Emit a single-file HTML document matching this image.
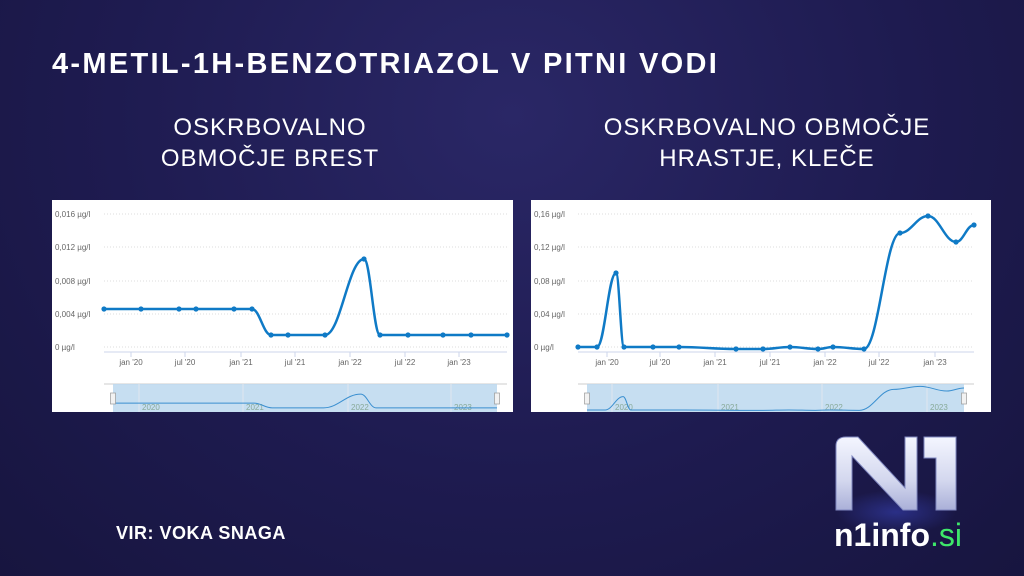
<!DOCTYPE html>
<html><head><meta charset="utf-8"><style>
html,body{margin:0;padding:0}
body{width:1024px;height:576px;overflow:hidden;position:relative;font-family:"Liberation Sans",sans-serif;
background:radial-gradient(ellipse at 50% 20%,#2a2766 0%,#1e1b50 55%,#17153f 100%);}
.t{position:absolute;color:#fff;white-space:nowrap}
</style></head><body>
<div class="t" style="left:52px;top:48px;font-size:29px;font-weight:bold;letter-spacing:2.3px">4-METIL-1H-BENZOTRIAZOL V PITNI VODI</div>
<div class="t" style="left:120px;top:112px;width:300px;text-align:center;font-size:24px;line-height:31px;letter-spacing:1px">OSKRBOVALNO<br>OBMOČJE BREST</div>
<div class="t" style="left:567px;top:112px;width:400px;text-align:center;font-size:24px;line-height:31px;letter-spacing:1px">OSKRBOVALNO OBMOČJE<br>HRASTJE, KLEČE</div>
<div class="t" style="left:116px;top:523px;font-size:18px;font-weight:bold;letter-spacing:0.5px">VIR: VOKA SNAGA</div>
<svg style="position:absolute;left:0;top:0" width="1024" height="576" id="s">
<defs><linearGradient id="g" x1="0" y1="0" x2="0" y2="1"><stop offset="0" stop-color="#f4f6ff"/><stop offset="0.6" stop-color="#d3d7ee"/><stop offset="1" stop-color="#aab0d8"/></linearGradient>
<radialGradient id="glow"><stop offset="0" stop-color="#4a5cff" stop-opacity="0.35"/><stop offset="1" stop-color="#4a5cff" stop-opacity="0"/></radialGradient></defs>
<rect x="52" y="200" width="461" height="212" fill="#fff"/>
<rect x="531" y="200" width="460" height="212" fill="#fff"/>
<ellipse cx="896" cy="512" rx="60" ry="22" fill="url(#glow)"/>
<path d="M836,510 V446 Q836,437 846,437 H858 L905,488 V437 H917 V510 H903 L852,456 V510 Z" fill="url(#g)" stroke="#8088c0" stroke-width="1"/>
<path d="M924,437 H956 V510 H936 V458 H924 Z" fill="url(#g)" stroke="#8088c0" stroke-width="1"/>
<text x="834" y="546" font-family="Liberation Sans,sans-serif" font-weight="bold" font-size="32" fill="#fff">n1info<tspan fill="#3ee86a" font-weight="normal">.si</tspan></text>
</svg>
<script>
var s=document.getElementById('s'),NS='http://www.w3.org/2000/svg';
function el(t,a,txt){var e=document.createElementNS(NS,t);for(var k in a)e.setAttribute(k,a[k]);if(txt)e.textContent=txt;s.appendChild(e);return e;}
function path(p){var d='M'+p[0][0]+','+p[0][1];for(var i=1;i<p.length;i++){var a=p[i-1],b=p[i],dx=(b[0]-a[0])/2.5;d+=' C'+(a[0]+dx)+','+a[1]+' '+(b[0]-dx)+','+b[1]+' '+b[0]+','+b[1];}return d;}
function chart(o){
 var ys=[214,247,281,314,347];
 ys.forEach(function(y,i){el('line',{x1:o.l,x2:o.r,y1:y,y2:y,stroke:'#ddd','stroke-dasharray':'1,2'});el('text',{x:o.lx,y:y+3,'font-size':'8',fill:'#666','font-family':'Liberation Sans,sans-serif'},o.yl[i]);});
 el('line',{x1:o.l,x2:o.r,y1:352,y2:352,stroke:'#ccd6eb'});
 o.xl.forEach(function(x,i){el('line',{x1:x,x2:x,y1:352,y2:357,stroke:'#ccd6eb'});el('text',{x:x,y:365,'font-size':'8',fill:'#666','text-anchor':'middle','font-family':'Liberation Sans,sans-serif'},['jan \'20','jul \'20','jan \'21','jul \'21','jan \'22','jul \'22','jan \'23'][i]);});
 el('line',{x1:o.l,x2:o.r,y1:384,y2:384,stroke:'#ccc'});
 el('rect',{x:o.n0,y:384,width:o.n1-o.n0,height:28,fill:'#bcd8ee',opacity:0.85});
 o.ny.forEach(function(x,i){el('line',{x1:x,x2:x,y1:384,y2:412,stroke:'#e0e6ee'});el('text',{x:x+3,y:410,'font-size':'8',fill:'#8a9',"font-family":'Liberation Sans,sans-serif'},['2020','2021','2022','2023'][i]);});
 el('path',{d:path(o.p),fill:'none',stroke:'#0f7ac6','stroke-width':2.5});
 o.p.forEach(function(q){el('circle',{cx:q[0],cy:q[1],r:2.6,fill:'#0f7ac6'});});
 var np=o.p.map(function(q){return [o.n0+(q[0]-o.l)/(o.r-o.l)*(o.n1-o.n0),386+(q[1]-214)/(347-214)*24];});
 el('path',{d:path(np),fill:'none',stroke:'#3a8fd0','stroke-width':1});
 [o.n0,o.n1].forEach(function(x){el('rect',{x:x-2.5,y:393,width:5,height:11,fill:'#f2f2f2',stroke:'#999','stroke-width':0.7});});
}
chart({l:104,r:507,lx:55,yl:['0,016 µg/l','0,012 µg/l','0,008 µg/l','0,004 µg/l','0 µg/l'],
 xl:[131,185,241,295,350,405,459],n0:113,n1:497,ny:[139,243,348,451],
 p:[[104,309],[141,309],[179,309],[196,309],[234,309],[252,309],[271,335],[288,335],[325,335],[364,259],[380,335],[408,335],[443,335],[471,335],[507,335]]});
chart({l:578,r:974,lx:534,yl:['0,16 µg/l','0,12 µg/l','0,08 µg/l','0,04 µg/l','0 µg/l'],
 xl:[607,660,715,770,825,879,935],n0:587,n1:964,ny:[612,718,822,927],
 p:[[578,347],[597,347],[616,273],[624,347],[653,347],[679,347],[736,349],[763,349],[790,347],[818,349],[833,347],[864,349],[900,233],[928,216],[956,242],[974,225]]});
</script>
</body></html>
